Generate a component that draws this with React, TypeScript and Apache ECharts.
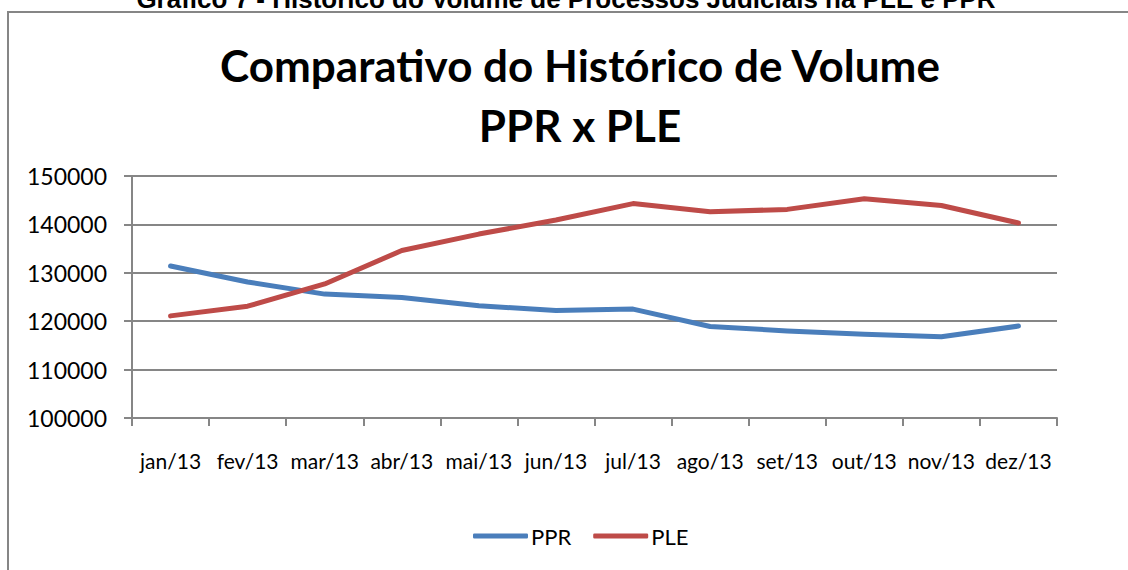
import React, { useEffect, useRef } from "react";
import * as echarts from "echarts";

const months = ["jan/13", "fev/13", "mar/13", "abr/13", "mai/13", "jun/13", "jul/13", "ago/13", "set/13", "out/13", "nov/13", "dez/13"];
const pprValues = [131400, 128100, 125600, 124900, 123200, 122200, 122500, 118900, 118000, 117300, 116800, 119000];
const pleValues = [121100, 123100, 127700, 134600, 138000, 140900, 144300, 142600, 143100, 145300, 143900, 140300];
const seriesNames = ["PPR", "PLE"];
const titleLines = ["Comparativo do Histórico de Volume", "PPR x PLE"];
const captionText = "Gráfico 7 - Histórico do Volume de Processos Judiciais na PLE e PPR";

const FONT = "Lato, 'Open Sans', sans-serif";
const GRAY = "#868686";

export default function App() {
  const ref = useRef<HTMLDivElement>(null);
  useEffect(() => {
    if (!ref.current) return;
    const chart = echarts.init(ref.current, null, { renderer: "svg" });
    chart.setOption({
      animation: false,
      backgroundColor: "#ffffff",
      textStyle: { fontFamily: FONT },
      title: {
        text: titleLines.join("\n"),
        left: 575,
        textAlign: "center",
        top: 30,
        textStyle: { fontFamily: FONT, fontWeight: "bold", fontSize: 44, lineHeight: 60, color: "#000" },
      },
      graphic: [
        {
          type: "rect",
          shape: { x: 8, y: 12, width: 1200, height: 600 },
          style: { fill: "none", stroke: GRAY, lineWidth: 2 },
          silent: true,
        },
        {
          type: "text",
          x: 566,
          y: -1,
          style: {
            text: captionText,
            fontFamily: "'Liberation Sans', Arial, sans-serif",
            fontWeight: "bold",
            fontSize: 26,
            fill: "#000",
            align: "center",
            verticalAlign: "middle",
          },
        },
      ],
      legend: {
        data: seriesNames,
        bottom: 18,
        left: 468,
        itemWidth: 55,
        itemHeight: 5,
        itemGap: 22,
        icon: "roundRect",
        textStyle: { fontFamily: FONT, fontSize: 22, color: "#000", padding: [0, 0, 0, -2] },
      },
      grid: { left: 132, right: 71, top: 176, bottom: 152 },
      xAxis: {
        type: "category",
        data: months,
        boundaryGap: true,
        axisLine: { show: true, lineStyle: { color: GRAY, width: 2 } },
        axisTick: { show: true, length: 8, lineStyle: { color: GRAY, width: 2 } },
        axisLabel: { fontFamily: FONT, fontSize: 21, color: "#000", margin: 32, interval: 0 },
      },
      yAxis: {
        type: "value",
        min: 100000,
        max: 150000,
        interval: 10000,
        axisLine: { show: true, lineStyle: { color: GRAY, width: 2 } },
        axisTick: { show: true, length: 8, lineStyle: { color: GRAY, width: 2 } },
        splitLine: { show: true, lineStyle: { color: GRAY, width: 2 } },
        axisLabel: { fontFamily: FONT, fontSize: 23, color: "#000", margin: 25, formatter: (v: number) => String(v) },
      },
      series: [
        {
          name: seriesNames[0],
          type: "line",
          data: pprValues,
          symbol: "none",
          lineStyle: { width: 5, color: "#4A7EBB", cap: "round", join: "round" },
          itemStyle: { color: "#4A7EBB" },
        },
        {
          name: seriesNames[1],
          type: "line",
          data: pleValues,
          symbol: "none",
          lineStyle: { width: 5, color: "#BE4B48", cap: "round", join: "round" },
          itemStyle: { color: "#BE4B48" },
        },
      ],
    });
    return () => chart.dispose();
  }, []);
  return <div ref={ref} style={{ position: "fixed", left: 0, top: 0, width: 1128, height: 570 }} />;
}
